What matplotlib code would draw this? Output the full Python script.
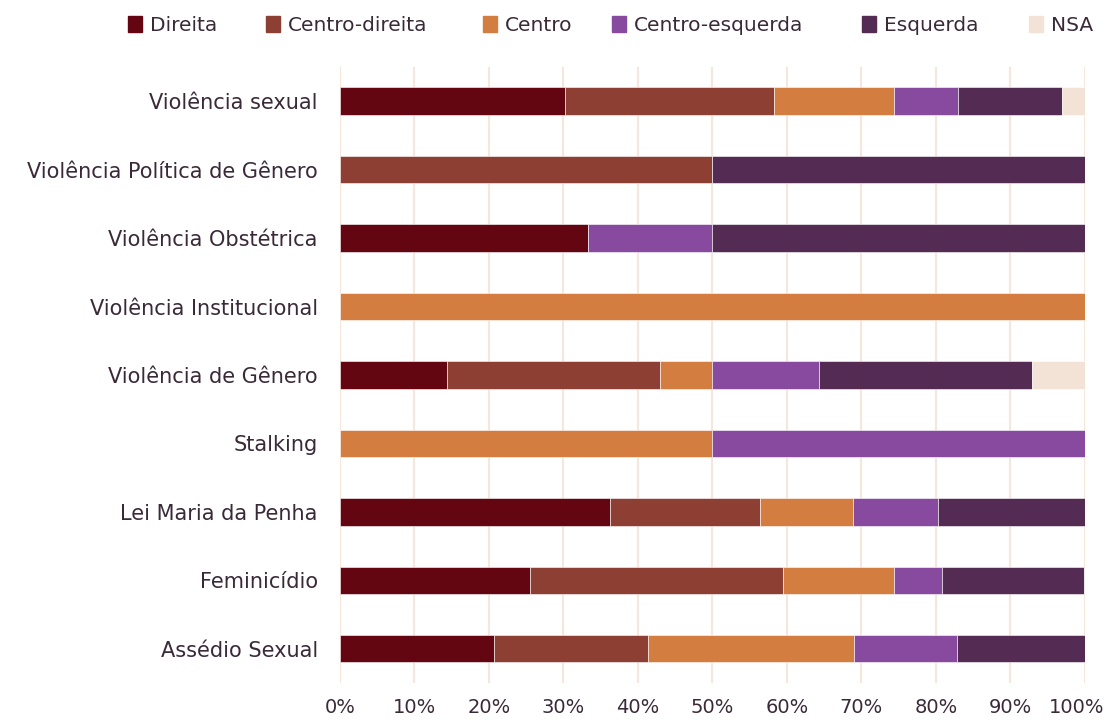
import numpy as np
import matplotlib
matplotlib.use("Agg")
import matplotlib.pyplot as plt
import matplotlib.transforms as mtrans
from matplotlib.patches import Patch

# %% data (percent of each topic)
topics = ["Violência sexual", "Violência Política de Gênero", "Violência Obstétrica",
          "Violência Institucional", "Violência de Gênero", "Stalking",
          "Lei Maria da Penha", "Feminicídio", "Assédio Sexual"]
groups = ["Direita", "Centro-direita", "Centro", "Centro-esquerda", "Esquerda", "NSA"]

direita         = [30.2, 0.0, 33.3, 0.0, 14.3, 0.0, 36.2, 25.5, 20.7]
centro_direita  = [28.1, 50.0, 0.0, 0.0, 28.6, 0.0, 20.2, 34.0, 20.7]
centro          = [16.1, 0.0, 0.0, 100.0, 7.1, 50.0, 12.5, 14.9, 27.6]
centro_esquerda = [8.6, 0.0, 16.7, 0.0, 14.3, 50.0, 11.4, 6.4, 13.8]
esquerda        = [13.9, 50.0, 50.0, 0.0, 28.6, 0.0, 19.7, 19.1, 17.2]
nsa             = [3.1, 0.0, 0.0, 0.0, 7.1, 0.0, 0.0, 0.0, 0.0]

colors = ["#640612", "#8C3F32", "#D37D40", "#874A9E", "#542C53", "#F2E3D6"]
TXT = "#3A2A38"

# %% plot
plt.rcParams["font.family"] = ["DejaVu Sans"]
fig = plt.figure(figsize=(11.06, 7.2), dpi=100)
ax = fig.add_axes([0.3074, 0.0514, 0.6736, 0.8556])

series = [direita, centro_direita, centro, centro_esquerda, esquerda, nsa]
y = np.arange(len(topics))
left = np.zeros(len(topics))
for vals, col, name in zip(series, colors, groups):
    v = np.array(vals)
    ax.barh(y, v, left=left, height=0.4, color=col, edgecolor="#FFFFFF",
            linewidth=0.4, label=name, zorder=3)
    left += v

ax.set_ylim(len(topics) - 0.5, -0.5)
ax.set_xlim(0, 100)
ax.set_xticks(np.arange(0, 101, 10))
ax.set_xticklabels([f"{t}%" for t in range(0, 101, 10)])
ax.set_yticks(y)
ax.set_yticklabels(topics)
ax.tick_params(axis="both", length=0, colors=TXT)
ax.tick_params(axis="y", pad=16, labelsize=15)
ax.tick_params(axis="x", pad=11, labelsize=14)
ax.grid(axis="x", color="#F6E7DC", linewidth=1.5, zorder=0)
ax.set_axisbelow(True)
for s in ax.spines.values():
    s.set_visible(False)
# nudge "100%" left so it stays inside the canvas
last = ax.get_xticklabels()[-1]
last.set_transform(last.get_transform() + mtrans.ScaledTranslation(-6 / 72, 0, fig.dpi_scale_trans))

# legend entries spread along the top like the original
leg_x = [0.1157, 0.2405, 0.4367, 0.5533, 0.7794, 0.9304]
for name, col, lx in zip(groups, colors, leg_x):
    fig.legend(handles=[Patch(color=col)], labels=[name], loc="center left",
               bbox_to_anchor=(lx, 0.965), frameon=False, fontsize=14.5,
               handlelength=0.7, handleheight=0.9, handletextpad=0.4,
               labelcolor=TXT, borderpad=0, borderaxespad=0)

fig.savefig("out.png", dpi=100)
